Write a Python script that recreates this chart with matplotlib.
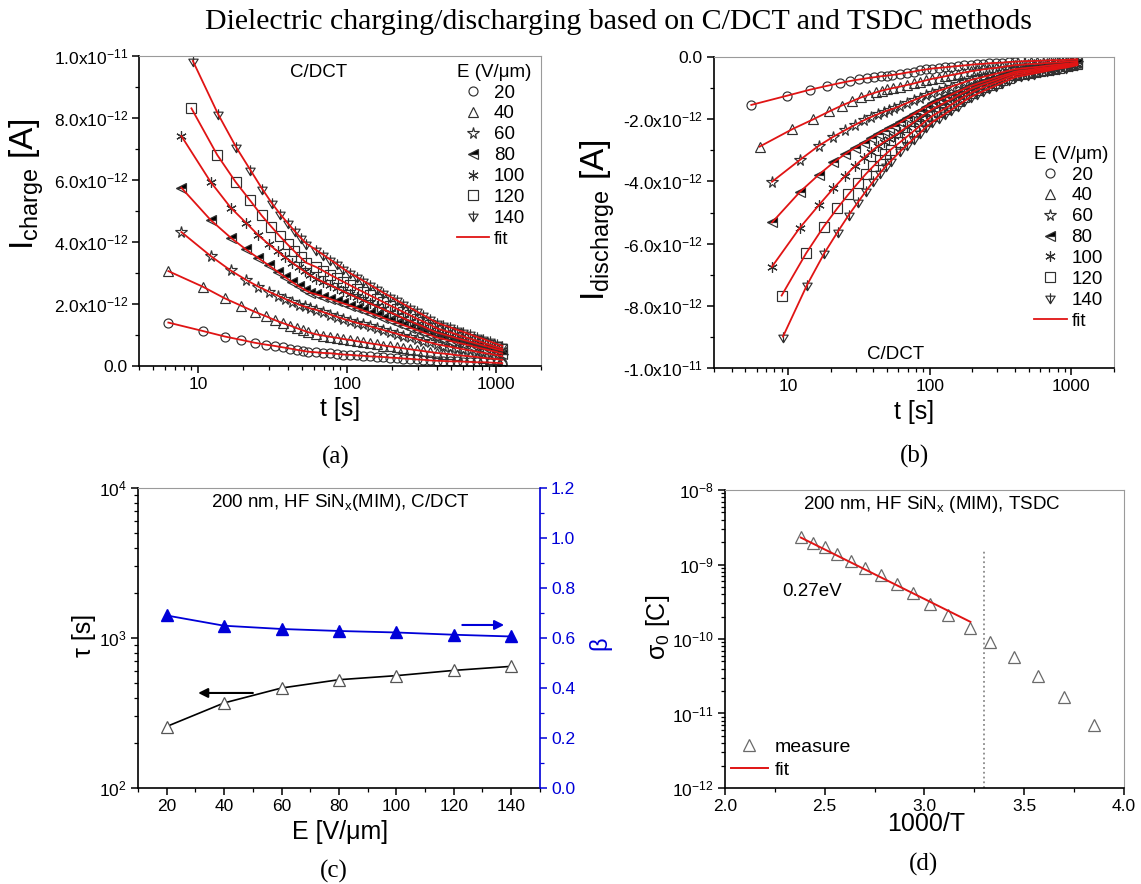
import matplotlib
matplotlib.use("Agg")
import matplotlib.pyplot as plt
import numpy as np
from matplotlib.path import Path
from matplotlib.lines import Line2D
from matplotlib.ticker import (FixedLocator, FixedFormatter, FuncFormatter, FormatStrFormatter,
                               LogLocator, MultipleLocator, NullFormatter)

plt.rcParams['font.family'] = ['Liberation Sans', 'DejaVu Sans']
plt.rcParams['mathtext.fontset'] = 'custom'
plt.rcParams['mathtext.rm'] = 'Liberation Sans'
plt.rcParams['mathtext.it'] = 'Liberation Sans:italic'
plt.rcParams['mathtext.bf'] = 'Liberation Sans:bold'
plt.rcParams['mathtext.default'] = 'regular'

fields = [20, 40, 60, 80, 100, 120, 140]

# sample times (s) of the first, well separated points of each transient
t_a20 = [6.3, 10.7, 15.1, 19.5, 23.9, 28.3, 32.7, 37.1, 41.5, 45.9, 50.3, 54.7]
t_a60 = [7.7, 12.1, 16.5, 20.9, 25.3, 29.7, 34.1, 38.5, 42.9, 47.3, 51.7, 56.1]
t_a120 = [9.0, 13.4, 17.8, 22.2, 26.6, 31.0, 35.4, 39.8, 44.2, 48.6, 53.0]
t_a140 = [9.2, 13.6, 18.0, 22.4, 26.8, 31.2, 35.6, 40.0, 44.4, 48.8, 53.2]
t_b20 = [5.5, 9.9, 14.3, 18.7, 23.1, 27.5, 31.9, 36.3, 40.7, 45.1, 49.5, 53.9]
# later samples, common to all curves
t_tail = [62, 69, 77, 85, 94, 104, 116, 128, 142, 158, 175, 194, 215, 238, 264,
          293, 325, 360, 399, 443, 491, 544, 603, 669, 742, 822, 912, 1010, 1100]

# charging currents (pA)
chg20 = [1.40, 1.13, 0.95, 0.84, 0.75, 0.69, 0.645, 0.60, 0.56, 0.52, 0.49, 0.46,
         0.44, 0.42, 0.41, 0.39, 0.37, 0.36, 0.34, 0.33, 0.31, 0.30, 0.29, 0.27,
         0.26, 0.24, 0.23, 0.21, 0.20, 0.18, 0.17,
         0.16, 0.15, 0.15, 0.14, 0.13, 0.12, 0.12, 0.11, 0.10, 0.09]
chg40 = [3.06, 2.56, 2.18, 1.94, 1.75, 1.61, 1.48, 1.38, 1.30, 1.22, 1.15, 1.09,
         1.02, 0.98, 0.94, 0.91, 0.87, 0.84, 0.80, 0.77, 0.73, 0.70, 0.66, 0.63,
         0.60, 0.57, 0.54, 0.51, 0.48, 0.45, 0.42,
         0.40, 0.38, 0.35, 0.33, 0.31, 0.29, 0.26, 0.24, 0.22, 0.20]
chg60 = [4.32, 3.55, 3.08, 2.78, 2.56, 2.40, 2.27, 2.16, 2.06, 1.98, 1.92, 1.86,
         1.81, 1.74, 1.66, 1.59, 1.52, 1.46, 1.39, 1.34, 1.28, 1.22, 1.16, 1.10,
         1.04, 0.98, 0.93, 0.87, 0.81, 0.76, 0.70,
         0.66, 0.62, 0.58, 0.54, 0.50, 0.46, 0.42, 0.39, 0.35, 0.31]
chg80 = [5.75, 4.71, 4.14, 3.76, 3.48, 3.25, 3.04, 2.86, 2.70, 2.57, 2.46, 2.37,
         2.31, 2.24, 2.16, 2.09, 2.02, 1.95, 1.87, 1.79, 1.71, 1.63, 1.55, 1.47,
         1.40, 1.32, 1.24, 1.16, 1.08, 1.00, 0.92,
         0.87, 0.81, 0.76, 0.71, 0.66, 0.60, 0.55, 0.50, 0.45, 0.40]
chg100 = [7.42, 5.94, 5.11, 4.62, 4.22, 3.93, 3.70, 3.50, 3.33, 3.18, 3.05, 2.93,
          2.82, 2.71, 2.61, 2.51, 2.41, 2.31, 2.21, 2.12, 2.02, 1.92, 1.83, 1.73,
          1.64, 1.54, 1.45, 1.36, 1.27, 1.17, 1.08,
          1.02, 0.96, 0.90, 0.84, 0.78, 0.72, 0.66, 0.60, 0.54, 0.50]
chg120 = [8.31, 6.81, 5.94, 5.35, 4.86, 4.49, 4.18, 3.92, 3.70, 3.50, 3.33,
          3.19, 3.07, 2.94, 2.83, 2.72, 2.61, 2.49, 2.39, 2.28, 2.17, 2.06, 1.95,
          1.85, 1.74, 1.64, 1.53, 1.43, 1.33, 1.22,
          1.15, 1.09, 1.02, 0.95, 0.88, 0.82, 0.75, 0.68, 0.61, 0.56]
chg140 = [9.84, 8.12, 7.05, 6.32, 5.72, 5.25, 4.89, 4.60, 4.35, 4.13, 3.95,
          3.74, 3.59, 3.43, 3.29, 3.14, 3.00, 2.87, 2.75, 2.62, 2.49, 2.36, 2.24,
          2.12, 2.00, 1.88, 1.76, 1.64, 1.52, 1.40,
          1.32, 1.25, 1.17, 1.10, 1.02, 0.94, 0.87, 0.79, 0.71, 0.65]

# discharging currents (pA)
dis20 = [-1.54, -1.24, -1.05, -0.93, -0.84, -0.77, -0.72, -0.68, -0.65, -0.62, -0.60, -0.58,
         -0.54, -0.50, -0.47, -0.43, -0.40, -0.37, -0.35, -0.33, -0.31, -0.29, -0.27, -0.25,
         -0.23, -0.22, -0.20, -0.19, -0.18, -0.16, -0.15,
         -0.14, -0.13, -0.13, -0.12, -0.11, -0.10, -0.10, -0.09, -0.08, -0.07]
dis40 = [-2.88, -2.32, -2.00, -1.75, -1.56, -1.42, -1.30, -1.21, -1.14, -1.08, -1.04, -1.00,
         -0.95, -0.90, -0.85, -0.80, -0.75, -0.70, -0.66, -0.62, -0.58, -0.54, -0.50, -0.46,
         -0.43, -0.40, -0.37, -0.35, -0.32, -0.29, -0.26,
         -0.25, -0.23, -0.22, -0.21, -0.19, -0.18, -0.17, -0.15, -0.14, -0.13]
dis60 = [-4.01, -3.31, -2.85, -2.56, -2.35, -2.18, -2.04, -1.93, -1.84, -1.76, -1.70, -1.65,
         -1.57, -1.48, -1.39, -1.31, -1.23, -1.15, -1.08, -1.02, -0.95, -0.88, -0.81, -0.74,
         -0.69, -0.64, -0.59, -0.54, -0.49, -0.44, -0.39,
         -0.37, -0.35, -0.33, -0.31, -0.28, -0.26, -0.24, -0.22, -0.20, -0.18]
dis80 = [-5.32, -4.34, -3.78, -3.39, -3.12, -2.92, -2.76, -2.61, -2.48, -2.37, -2.29, -2.22,
         -2.10, -1.97, -1.84, -1.72, -1.60, -1.49, -1.39, -1.30, -1.21, -1.11, -1.02, -0.93,
         -0.86, -0.79, -0.73, -0.66, -0.60, -0.54, -0.47,
         -0.44, -0.42, -0.39, -0.36, -0.34, -0.31, -0.28, -0.25, -0.23, -0.20]
dis100 = [-6.74, -5.49, -4.76, -4.22, -3.82, -3.50, -3.25, -3.04, -2.87, -2.74, -2.63, -2.53,
          -2.40, -2.25, -2.10, -1.95, -1.81, -1.68, -1.57, -1.46, -1.36, -1.24, -1.14, -1.03,
          -0.95, -0.88, -0.81, -0.74, -0.66, -0.59, -0.52,
          -0.49, -0.46, -0.43, -0.40, -0.37, -0.34, -0.31, -0.28, -0.25, -0.22]
dis120 = [-7.67, -6.31, -5.46, -4.87, -4.42, -4.06, -3.76, -3.52, -3.31, -3.13, -2.98,
          -2.73, -2.56, -2.38, -2.22, -2.05, -1.90, -1.77, -1.66, -1.53, -1.40, -1.28, -1.16,
          -1.06, -0.98, -0.90, -0.82, -0.74, -0.66, -0.58,
          -0.55, -0.51, -0.48, -0.44, -0.41, -0.37, -0.34, -0.30, -0.27, -0.24]
dis140 = [-8.99, -7.33, -6.31, -5.62, -5.08, -4.66, -4.30, -4.00, -3.74, -3.52, -3.34,
          -3.03, -2.83, -2.63, -2.45, -2.26, -2.10, -1.96, -1.83, -1.70, -1.56, -1.42, -1.29,
          -1.19, -1.10, -1.01, -0.92, -0.83, -0.74, -0.65,
          -0.61, -0.57, -0.53, -0.49, -0.45, -0.41, -0.37, -0.34, -0.30, -0.26]

# stretched-exponential fit parameters vs field
tau_s = [257, 369, 464, 527, 561, 608, 647]
beta = [0.690, 0.649, 0.636, 0.628, 0.622, 0.613, 0.606]

# TSDC: charge vs 1000/T
inv_T = [2.38, 2.44, 2.50, 2.56, 2.63, 2.70, 2.78, 2.86, 2.94, 3.03, 3.12, 3.23,
         3.33, 3.45, 3.57, 3.70, 3.85]
sigma0 = [2.36e-9, 1.96e-9, 1.70e-9, 1.37e-9, 1.12e-9, 9.06e-10, 7.23e-10, 5.42e-10,
          4.10e-10, 2.95e-10, 2.10e-10, 1.39e-10, 9.2e-11, 5.7e-11, 3.2e-11, 1.68e-11, 7.0e-12]
fit_invT = [2.38, 3.23]
fit_sigma = [2.3e-9, 1.7e-10]
tsdc_split = 3.30

RED = '#e01414'
BLUE = '#0000d8'
MEC = '#303030'

# down triangle with a cross through it (Origin's 140 V/um symbol)
psi = Path([(-0.9, 0.45), (0.9, 0.45), (0.0, -1.0), (-0.9, 0.45), (0.0, 1.0), (0.0, -1.0)],
           [Path.MOVETO, Path.LINETO, Path.LINETO, Path.CLOSEPOLY, Path.MOVETO, Path.LINETO])
symbols = ['o', '^', '*', '<', (6, 2, 0), 's', psi]
sizes = [6.5, 6.5, 8.5, 6.5, 7.5, 6.5, 7.5]


def sci_tick(v, pos):
    if abs(v) < 1e-20:
        return '0.0'
    e = int(np.floor(np.log10(abs(v)) + 1e-9))
    return f'{v / 10**e:.1f}x10$^{{{e}}}$'


def frame(ax):
    for s in ('left', 'bottom'):
        ax.spines[s].set_linewidth(1.2)
    for s in ('top', 'right'):
        ax.spines[s].set_linewidth(0.8)
        ax.spines[s].set_color('#9a9a9a')
    ax.tick_params(which='major', direction='out', length=5, width=1.1, labelsize=12.5, pad=3)
    ax.tick_params(which='minor', direction='out', length=3, width=0.9)
    ax.tick_params(top=False, right=False)


def transients(ax, times, currents, leg_anchor):
    handles = []
    for E, t, cur, mk, ms in zip(fields, times, currents, symbols, sizes):
        style = dict(ls='none', marker=mk, ms=ms, mec=MEC, mfc='none', mew=0.85)
        if mk == '<':
            style.update(mfc='black', fillstyle='top', markerfacecoloralt='white')
        h, = ax.plot(t + t_tail, np.array(cur) * 1e-12, label=str(E), **style)
        handles.append(h)
    for t, cur in zip(times, currents):
        ax.plot(t + t_tail, np.array(cur) * 1e-12, color=RED, lw=1.3, zorder=3)
    handles.append(Line2D([], [], color=RED, lw=1.3, label='fit'))
    ax.set_xscale('log')
    ax.xaxis.set_major_locator(FixedLocator([10, 100, 1000]))
    ax.xaxis.set_major_formatter(FixedFormatter(['10', '100', '1000']))
    ax.xaxis.set_minor_locator(LogLocator(base=10, subs=np.arange(2, 10)))
    ax.xaxis.set_minor_formatter(NullFormatter())
    ax.yaxis.set_major_locator(MultipleLocator(2e-12))
    ax.yaxis.set_minor_locator(MultipleLocator(1e-12))
    ax.yaxis.set_major_formatter(FuncFormatter(sci_tick))
    ax.legend(handles=handles, loc='upper left', bbox_to_anchor=leg_anchor, frameon=False,
              title='E (V/\u03bcm)', fontsize=13.5, title_fontsize=13.5, alignment='left',
              labelspacing=0.2, handlelength=1.75, handletextpad=0.25, borderaxespad=0,
              borderpad=0)
    ax.set_xlabel('t [s]', fontsize=18, va='center')
    ax.xaxis.set_label_coords(0.5, -0.14)
    frame(ax)


fig = plt.figure(figsize=(11.41, 8.84), dpi=100)
ax1 = fig.add_axes([0.1218, 0.5860, 0.3523, 0.3507])
ax2 = fig.add_axes([0.6258, 0.5837, 0.3506, 0.3518])
ax3 = fig.add_axes([0.1209, 0.1086, 0.3523, 0.3394])
ax4 = fig.add_axes([0.6354, 0.1086, 0.3497, 0.3371])

# (a) charging transients
transients(ax1, [t_a20, t_a20, t_a60, t_a60, t_a60, t_a120, t_a140],
           [chg20, chg40, chg60, chg80, chg100, chg120, chg140], (0.79, 0.975))
ax1.set_xlim(4, 2000)
ax1.set_ylim(0, 1.0e-11)
ax1.set_ylabel('$I_{charge}$ [A]', fontsize=24, va='center')
ax1.yaxis.set_label_coords(-0.28, 0.585)
ax1.text(0.448, 0.948, 'C/DCT', transform=ax1.transAxes, ha='center', va='center', fontsize=13.5)

# (b) discharging transients
transients(ax2, [t_b20, t_a20, t_a60, t_a60, t_a60, t_a120, t_a140],
           [dis20, dis40, dis60, dis80, dis100, dis120, dis140], (0.80, 0.715))
ax2.set_xlim(3, 2000)
ax2.set_ylim(-1.0e-11, 0)
ax2.set_ylabel('$I_{discharge}$ [A]', fontsize=24, va='center')
ax2.yaxis.set_label_coords(-0.29, 0.476)
ax2.text(0.455, 0.042, 'C/DCT', transform=ax2.transAxes, ha='center', va='center', fontsize=13.5)

# (c) tau and beta vs field
ax3.plot(fields, tau_s, color='black', lw=1.2, marker='^', ms=8, mfc='white', mec='#555555',
         mew=0.9, zorder=3)
ax3.set_yscale('log')
ax3.set_xlim(10, 150)
ax3.set_ylim(1e2, 1e4)
ax3.xaxis.set_major_locator(MultipleLocator(20))
ax3.xaxis.set_minor_locator(MultipleLocator(10))
ax3.yaxis.set_minor_locator(LogLocator(base=10, subs=np.arange(2, 10)))
ax3.yaxis.set_minor_formatter(NullFormatter())
ax3.annotate('', xy=(30, 430), xytext=(51, 430),
             arrowprops=dict(arrowstyle='-|>', color='black', lw=1.5, mutation_scale=14))
ax3.set_xlabel('E [V/\u03bcm]', fontsize=18, va='center')
ax3.xaxis.set_label_coords(0.502, -0.147)
ax3.text(-0.135, 0.51, '\u03c4 [s]', transform=ax3.transAxes, rotation=90,
         ha='center', va='center', fontsize=18)
ax3.text(0.504, 0.95, '200 nm, HF SiN$_x$(MIM), C/DCT', transform=ax3.transAxes,
         ha='center', va='center', fontsize=13.5)
frame(ax3)
ax3.spines['right'].set_visible(False)

ax3b = ax3.twinx()
ax3b.plot(fields, beta, color=BLUE, lw=1.3, marker='^', ms=8, mfc=BLUE, mec=BLUE)
ax3b.set_ylim(0, 1.2)
ax3b.yaxis.set_major_locator(MultipleLocator(0.2))
ax3b.yaxis.set_minor_locator(MultipleLocator(0.1))
ax3b.yaxis.set_major_formatter(FormatStrFormatter('%.1f'))
ax3b.annotate('', xy=(138.5, 0.652), xytext=(122, 0.652),
              arrowprops=dict(arrowstyle='-|>', color=BLUE, lw=1.5, mutation_scale=14))
for s in ('left', 'top', 'bottom'):
    ax3b.spines[s].set_visible(False)
ax3b.spines['right'].set_color(BLUE)
ax3b.spines['right'].set_linewidth(1.2)
ax3b.tick_params(axis='y', which='major', direction='out', length=5, width=1.1,
                 colors=BLUE, labelsize=12.5, pad=3)
ax3b.tick_params(axis='y', which='minor', direction='out', length=3, width=0.9, colors=BLUE)
ax3b.text(1.149, 0.483, '\u03b2', transform=ax3b.transAxes, rotation=90, color=BLUE,
          ha='center', va='center', fontsize=17)

# (d) TSDC Arrhenius plot
ax4.plot(inv_T, sigma0, ls='none', marker='^', ms=9, mfc='none', mec='#6a6a6a', mew=0.9,
         label='measure')
ax4.plot(fit_invT, fit_sigma, color=RED, lw=1.4, label='fit')
ax4.vlines(tsdc_split, 1e-12, 1.5e-9, colors='#8a8a8a', linestyles=':', lw=1.3)
ax4.set_yscale('log')
ax4.set_xlim(2.0, 4.0)
ax4.set_ylim(1e-12, 1e-8)
ax4.xaxis.set_major_locator(MultipleLocator(0.5))
ax4.xaxis.set_minor_locator(MultipleLocator(0.25))
ax4.xaxis.set_major_formatter(FormatStrFormatter('%.1f'))
ax4.yaxis.set_major_locator(LogLocator(base=10, numticks=10))
ax4.yaxis.set_minor_locator(LogLocator(base=10, subs=np.arange(2, 10), numticks=20))
ax4.yaxis.set_minor_formatter(NullFormatter())
ax4.text(0.143, 0.659, '0.27eV', transform=ax4.transAxes, ha='left', va='center', fontsize=13.5)
ax4.text(0.519, 0.95, '200 nm, HF SiN$_x$ (MIM), TSDC', transform=ax4.transAxes,
         ha='center', va='center', fontsize=13.5)
ax4.legend(loc='lower left', bbox_to_anchor=(0.015, 0.03), frameon=False, fontsize=14,
           labelspacing=0.3, handlelength=1.9, handletextpad=0.35, borderaxespad=0, borderpad=0)
ax4.set_xlabel('1000/T', fontsize=18, va='center')
ax4.xaxis.set_label_coords(0.504, -0.121)
ax4.text(-0.168, 0.54, '$\u03c3_0$ [C]', transform=ax4.transAxes, rotation=90,
         ha='center', va='center', fontsize=18)
frame(ax4)

serif = ['Liberation Serif', 'DejaVu Serif']
fig.text(0.542, 0.975, 'Dielectric charging/discharging based on C/DCT and TSDC methods',
         ha='center', va='center', family=serif, fontsize=21.5)
for x, y, lab in [(0.2945, 0.483, '(a)'), (0.8015, 0.484, '(b)'),
                  (0.2927, 0.0147, '(c)'), (0.809, 0.0226, '(d)')]:
    fig.text(x, y, lab, ha='center', va='center', family=serif, fontsize=18)

fig.savefig('out.png', dpi=100)
